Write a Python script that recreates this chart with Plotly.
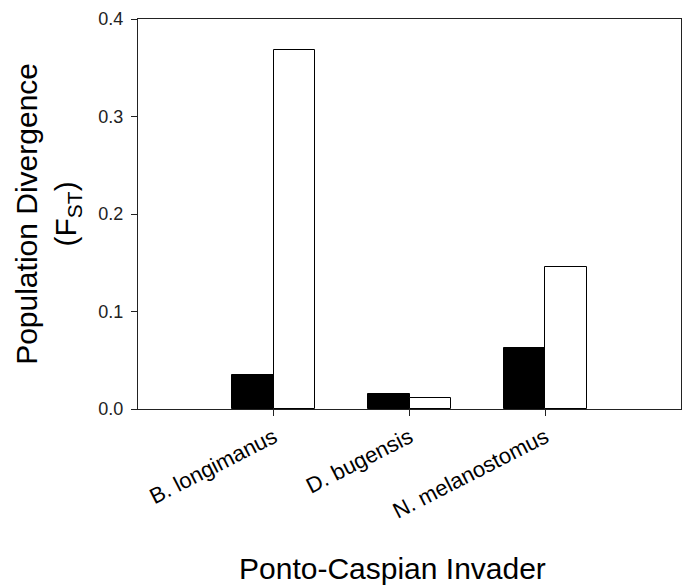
import plotly.graph_objects as go

categories = ["B. longimanus", "D. bugensis", "N. melanostomus"]
series_black = [0.035, 0.015, 0.063]
series_white = [0.368, 0.011, 0.146]
y_ticks = [0.0, 0.1, 0.2, 0.3, 0.4]
y_tick_labels = ["0.0", "0.1", "0.2", "0.3", "0.4"]

FONT = "Liberation Sans, Arial, sans-serif"
BW = 0.305

fig = go.Figure()
fig.add_trace(go.Bar(x=categories, y=series_black, width=BW, offset=-BW,
                     marker=dict(color="black", line=dict(color="black", width=1)),
                     showlegend=False))
fig.add_trace(go.Bar(x=categories, y=series_white, width=BW, offset=0,
                     marker=dict(color="white", line=dict(color="black", width=1)),
                     showlegend=False))

fig.update_layout(
    width=686, height=586,
    margin=dict(l=138, r=5, t=19, b=177),
    paper_bgcolor="white", plot_bgcolor="white",
    font=dict(family=FONT, color="black"),
    bargap=0,
    xaxis=dict(
        type="category", range=[-1, 3], automargin=False,
        showline=True, linecolor="#222", linewidth=1, mirror=True,
        ticks="outside", ticklen=6, tickcolor="#222", tickwidth=1,
        tickangle=-27, tickfont=dict(size=22, family=FONT),
        showgrid=False, zeroline=False,
    ),
    yaxis=dict(
        range=[0, 0.4], automargin=False,
        tickvals=y_ticks, ticktext=y_tick_labels,
        showline=True, linecolor="#222", linewidth=1, mirror=True,
        ticks="outside", ticklen=6, tickcolor="#222", tickwidth=1,
        ticklabelstandoff=4,
        tickfont=dict(size=18, family=FONT, color="#222"),
        showgrid=False, zeroline=False,
    ),
    annotations=[
        dict(text="Ponto-Caspian Invader", xref="paper", yref="paper",
             x=0.468, y=-0.41, xanchor="center", yanchor="middle",
             showarrow=False, font=dict(size=30, family=FONT)),
        dict(text="Population Divergence<br>(F<sub>ST</sub>)", xref="paper", yref="paper",
             x=-0.166, y=0.5, xanchor="center", yanchor="middle", textangle=-90,
             showarrow=False, font=dict(size=30, family=FONT)),
    ],
)

# remove the browser's default 8px body margin so the figure fills the window exactly
fig.write_html(
    "out.html",
    config={"displayModeBar": False},
    post_script="document.body.style.margin='0';document.body.style.overflow='hidden';",
)
